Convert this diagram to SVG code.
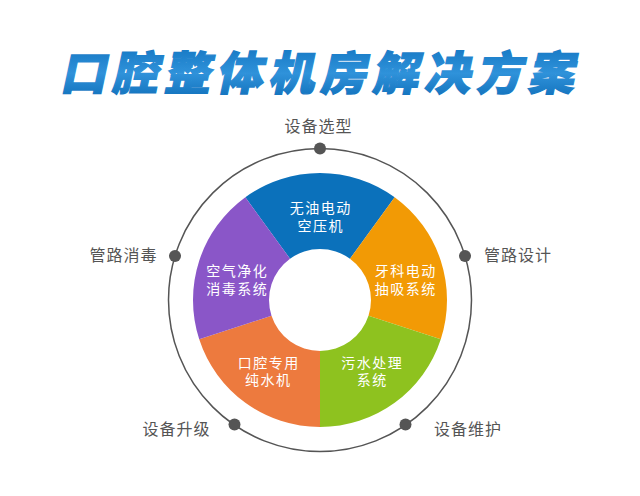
<svg xmlns="http://www.w3.org/2000/svg" width="640" height="496" viewBox="0 0 640 496">
<defs>
<linearGradient id="tg" x1="0" y1="0" x2="0" y2="1">
<stop offset="0" stop-color="#0d6fbc"/>
<stop offset="0.55" stop-color="#2f92da"/>
<stop offset="1" stop-color="#0c6bb6"/>
</linearGradient>
<style>
.seg-t{font-family:"Noto Sans CJK SC","Noto Sans",sans-serif;font-size:14px;fill:#ffffff;letter-spacing:1.5px;text-anchor:middle;dominant-baseline:central}
.lbl{font-family:"Noto Sans CJK SC","Noto Sans",sans-serif;font-size:16px;fill:#555555;letter-spacing:1px;dominant-baseline:central}
.dot{fill:#555555}
.ring{fill:none;stroke:#555555;stroke-width:1.5}
</style>
</defs>
<rect x="0" y="0" width="640" height="496" fill="#ffffff"/>
<g id="title">
<text transform="translate(324,70) skewX(-12)" x="0" y="0" font-family="'Noto Sans CJK SC','Noto Sans',sans-serif" font-size="46" font-weight="900" letter-spacing="6" text-anchor="middle" dominant-baseline="central" fill="url(#tg)" stroke="url(#tg)" stroke-width="1.4">口腔整体机房解决方案</text>
</g>
<g id="connectors">
<circle class="ring" cx="320" cy="300" r="151.5"/>
</g>
<g id="seg-blue">
<path d="M245.35,197.25 A127,127 0 0 1 394.65,197.25 L349.98,258.74 A51,51 0 0 0 290.02,258.74 Z" fill="#0b71bb"/>
<text class="seg-t"><tspan x="320.75" y="207">无油电动</tspan><tspan x="320.75" y="224.5">空压机</tspan></text>
</g>
<g id="seg-orange">
<path d="M394.65,197.25 A127,127 0 0 1 440.78,339.25 L368.50,315.76 A51,51 0 0 0 349.98,258.74 Z" fill="#f29a05"/>
<text class="seg-t"><tspan x="405.75" y="270">牙科电动</tspan><tspan x="405.75" y="288">抽吸系统</tspan></text>
</g>
<g id="seg-green">
<path d="M440.78,339.25 A127,127 0 0 1 320,427 L320,351 A51,51 0 0 0 368.50,315.76 Z" fill="#8ec21f"/>
<text class="seg-t"><tspan x="372.25" y="361.5">污水处理</tspan><tspan x="372.25" y="379">系统</tspan></text>
</g>
<g id="seg-red">
<path d="M320,427 A127,127 0 0 1 199.22,339.25 L271.50,315.76 A51,51 0 0 0 320,351 Z" fill="#ed7a3e"/>
<text class="seg-t"><tspan x="268.75" y="361.5">口腔专用</tspan><tspan x="268.25" y="379">纯水机</tspan></text>
</g>
<g id="seg-purple">
<path d="M199.22,339.25 A127,127 0 0 1 245.35,197.25 L290.02,258.74 A51,51 0 0 0 271.50,315.76 Z" fill="#8a56c8"/>
<text class="seg-t"><tspan x="237.25" y="270">空气净化</tspan><tspan x="237.25" y="288">消毒系统</tspan></text>
</g>
<g id="n-select">
<circle class="dot" cx="320" cy="148.5" r="6"/>
<text class="lbl" x="318.5" y="125" text-anchor="middle">设备选型</text>
</g>
<g id="n-design">
<circle class="dot" cx="465" cy="256" r="6"/>
<text class="lbl" x="484" y="254">管路设计</text>
</g>
<g id="n-maintain">
<circle class="dot" cx="405.5" cy="424.5" r="6"/>
<text class="lbl" x="434" y="428">设备维护</text>
</g>
<g id="n-upgrade">
<circle class="dot" cx="234.5" cy="424.5" r="6"/>
<text class="lbl" x="176.5" y="427.5" text-anchor="middle">设备升级</text>
</g>
<g id="n-disinfect">
<circle class="dot" cx="175" cy="256" r="6"/>
<text class="lbl" x="123.5" y="254" text-anchor="middle">管路消毒</text>
</g>
</svg>
